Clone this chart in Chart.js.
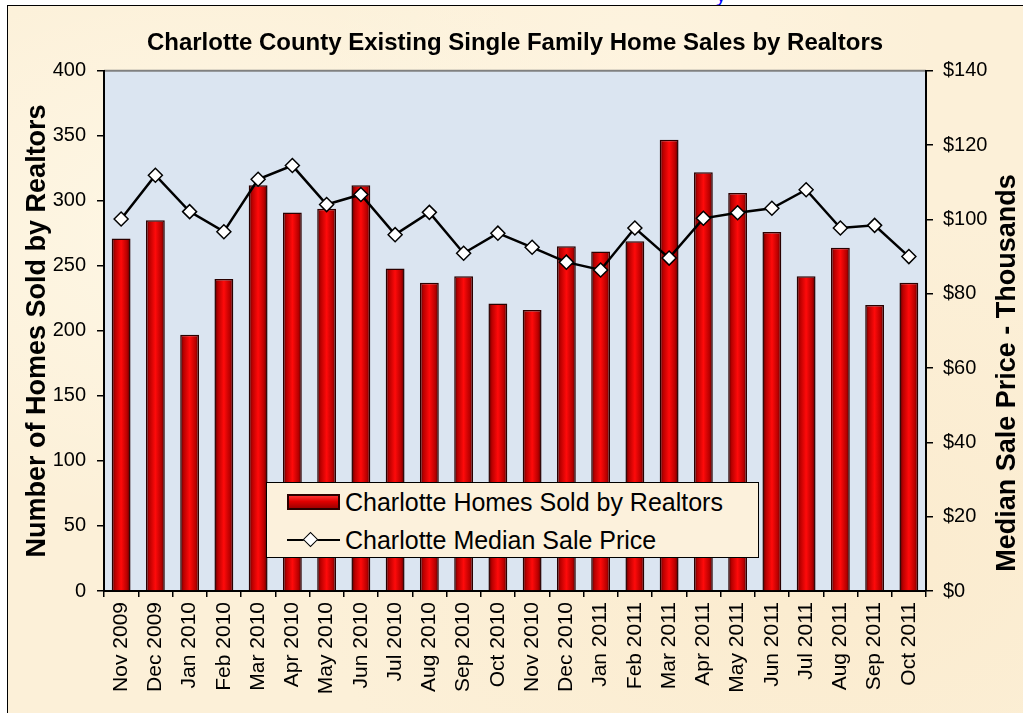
<!DOCTYPE html>
<html>
<head>
<meta charset="utf-8">
<script src="https://cdn.jsdelivr.net/npm/chart.js@4.4.0/dist/chart.umd.min.js"></script>
<style>
    body {
        margin: 0;
        width: 1023px;
        height: 713px;
        overflow: hidden;
        position: relative;
        background: #fff;
        font-family: "Liberation Sans", Arial, sans-serif;
    }
    #frame {
        position: absolute;
        left: 7px;
        top: 5px;
        width: 1040px;
        height: 740px;
        border: 1px solid #000;
        background-color: #fcf0d8;
        background-image:
            radial-gradient(ellipse at 20% 30%, rgba(255,250,235,0.7), rgba(255,250,235,0) 40%),
            radial-gradient(ellipse at 80% 75%, rgba(250,232,200,0.6), rgba(250,232,200,0) 45%),
            radial-gradient(ellipse at 60% 10%, rgba(255,246,228,0.6), rgba(255,246,228,0) 35%);
    }
    #toplink {
        position: absolute;
        left: 716px;
        top: -16px;
        color: #0000ff;
        font-size: 20px;
    }
    #chart {
        position: absolute;
        left: 0;
        top: 0;
    }
    #legend {
        position: absolute;
        left: 266px;
        top: 482px;
        width: 493px;
        height: 76px;
        border: 1px solid #000;
        background: #fcf1dc;
        box-sizing: border-box;
        padding-top: 0px;
    }
    .row {
        height: 38px;
        display: flex;
        align-items: center;
        padding-left: 20px;
        font-size: 25px;
        color: #000;
    }
    .swatch {
        width: 53px;
        height: 16px;
        margin-right: 5px;
        position: relative;
        box-sizing: border-box;
    }
    .bar-swatch {
        border: 2px solid #2a0000;
        background: linear-gradient(to bottom, #ff3030, #e00000 45%, #a00000);
    }
    .line-swatch::before {
        content: "";
        position: absolute;
        left: 0;
        right: 0;
        top: 7px;
        border-top: 2px solid #000;
    }
    .line-swatch::after {
        content: "";
        position: absolute;
        left: 18px;
        top: 2px;
        width: 9px;
        height: 9px;
        background: #fff;
        border: 1.5px solid #000;
        transform: rotate(45deg);
    }
</style>
</head>
<body>
<div id="toplink">y</div>
<div id="frame"></div>
<canvas id="chart" width="1023" height="713"></canvas>
<div id="legend"></div>

<script>
// Veriler
var months = ['Nov 2009', 'Dec 2009', 'Jan 2010', 'Feb 2010', 'Mar 2010', 'Apr 2010',
    'May 2010', 'Jun 2010', 'Jul 2010', 'Aug 2010', 'Sep 2010', 'Oct 2010',
    'Nov 2010', 'Dec 2010', 'Jan 2011', 'Feb 2011', 'Mar 2011', 'Apr 2011',
    'May 2011', 'Jun 2011', 'Jul 2011', 'Aug 2011', 'Sep 2011', 'Oct 2011'];
var homesSold = [271, 285, 197, 240, 312, 291, 294, 312, 248, 237, 242, 221,
    216, 265, 261, 269, 347, 322, 306, 276, 242, 264, 220, 237];
var medianPrice = [100.1, 111.9, 102.1, 96.7, 110.8, 114.5, 104.0, 106.7, 95.9, 101.9, 90.9, 96.3,
    92.5, 88.5, 86.4, 97.7, 89.6, 100.3, 101.8, 103.0, 108.0, 97.7, 98.4, 90.0];
var soldTicks = [0, 400, 50];      // min, max, step
var priceTicks = [0, 140, 20];

var BAR_PCT = 0.55;
var font = "'Liberation Sans', Arial, sans-serif";
var rightTitle = 'Median Sale Price - Thousands';

// bar gradient: dark edges, bright centre
function barFill(c) {
    var chart = c.chart;
    if (c.type !== 'data' || !chart.scales.x) return '#e00000';
    var x = chart.scales.x.getPixelForValue(c.dataIndex);
    var half = chart.scales.x.width / months.length * BAR_PCT / 2;
    if (!isFinite(x)) return '#e00000';
    var g = chart.ctx.createLinearGradient(x - half, 0, x + half, 0);
    g.addColorStop(0, '#4a0000');
    g.addColorStop(0.18, '#b80000');
    g.addColorStop(0.5, '#ff0a0a');
    g.addColorStop(0.82, '#b80000');
    g.addColorStop(1, '#4a0000');
    return g;
}

var plotBg = {
    id: 'plotBg',
    beforeDraw: function (chart) {
        var a = chart.chartArea, ctx = chart.ctx;
        ctx.save();
        ctx.fillStyle = '#dbe5f1';
        ctx.fillRect(a.left, a.top, a.right - a.left, a.bottom - a.top);
        ctx.strokeStyle = '#808080';
        ctx.lineWidth = 2;
        ctx.beginPath();
        ctx.moveTo(a.left, a.top);
        ctx.lineTo(a.right, a.top);
        ctx.stroke();
        ctx.restore();
    },
    // right axis title reads bottom-to-top like the left one
    afterDraw: function (chart) {
        var s = chart.scales.y1, ctx = chart.ctx;
        ctx.save();
        ctx.translate(s.right - 15, 373);
        ctx.rotate(-Math.PI / 2);
        ctx.font = 'bold 27px ' + font;
        ctx.fillStyle = '#000';
        ctx.textAlign = 'center';
        ctx.textBaseline = 'middle';
        ctx.fillText(rightTitle, 0, 0);
        ctx.restore();
    }
};

var ctx = document.getElementById('chart').getContext('2d');
var chart = new Chart(ctx, {
    type: 'bar',
    data: {
        labels: months,
        datasets: [{
            type: 'line',
            label: 'Charlotte Median Sale Price',
            data: medianPrice,
            yAxisID: 'y1',
            order: 0,
            borderColor: '#000',
            borderWidth: 2.5,
            pointStyle: 'rectRot',
            pointRadius: 7,
            pointBackgroundColor: '#fff',
            pointBorderColor: '#000',
            pointBorderWidth: 1.5,
            tension: 0
        }, {
            label: 'Charlotte Homes Sold by Realtors',
            data: homesSold,
            yAxisID: 'y',
            order: 1,
            backgroundColor: barFill,
            borderColor: '#2a0000',
            borderWidth: 1.5,
            barPercentage: BAR_PCT,
            categoryPercentage: 1
        }]
    },
    options: {
        responsive: false,
        animation: false,
        layout: { padding: { left: 7, right: 0, top: 0, bottom: 0 } },
        plugins: {
            legend: { display: false },
            tooltip: { enabled: false },
            title: {
                display: true,
                text: 'Charlotte County Existing Single Family Home Sales by Realtors',
                color: '#000',
                font: { family: font, size: 24, weight: 'bold' },
                padding: { top: 29, bottom: 13 }
            }
        },
        scales: {
            x: {
                afterFit: function (s) { s.height = 122; },
                border: { color: '#000', width: 2 },
                grid: { drawOnChartArea: false, color: '#000', tickLength: 6, lineWidth: 1.5 },
                ticks: {
                    color: '#000',
                    font: { family: font, size: 21 },
                    maxRotation: 90,
                    minRotation: 90,
                    padding: 5,
                    autoSkip: false
                }
            },
            y: {
                position: 'left',
                min: soldTicks[0],
                max: soldTicks[1],
                afterFit: function (s) { s.width = 97; },
                border: { color: '#000', width: 2 },
                grid: { drawOnChartArea: false, color: '#000', tickLength: 7, lineWidth: 1.5 },
                ticks: {
                    stepSize: soldTicks[2],
                    color: '#000',
                    font: { family: font, size: 20 },
                    padding: 11
                },
                title: {
                    display: true,
                    text: 'Number of Homes Sold by Realtors',
                    color: '#000',
                    font: { family: font, size: 27, weight: 'bold' },
                    padding: { top: 14, bottom: 0 }
                }
            },
            y1: {
                position: 'right',
                min: priceTicks[0],
                max: priceTicks[1],
                afterFit: function (s) { s.width = 97; },
                border: { color: '#000', width: 2 },
                grid: { drawOnChartArea: false, color: '#000', tickLength: 7, lineWidth: 1.5 },
                ticks: {
                    stepSize: priceTicks[2],
                    color: '#000',
                    font: { family: font, size: 20 },
                    padding: 10,
                    callback: function (v) { return '$' + v; }
                }
            }
        }
    },
    plugins: [plotBg]
});

// HTML legend (bars first, like the original)
var legendHtml = '';
[1, 0].forEach(function (i) {
    var ds = chart.data.datasets[i];
    var cls = ds.type === 'line' ? 'line-swatch' : 'bar-swatch';
    legendHtml += '<div class="row"><span class="swatch ' + cls + '"></span>' + ds.label + '</div>';
});
document.getElementById('legend').innerHTML = legendHtml;
</script>
</body>
</html>
